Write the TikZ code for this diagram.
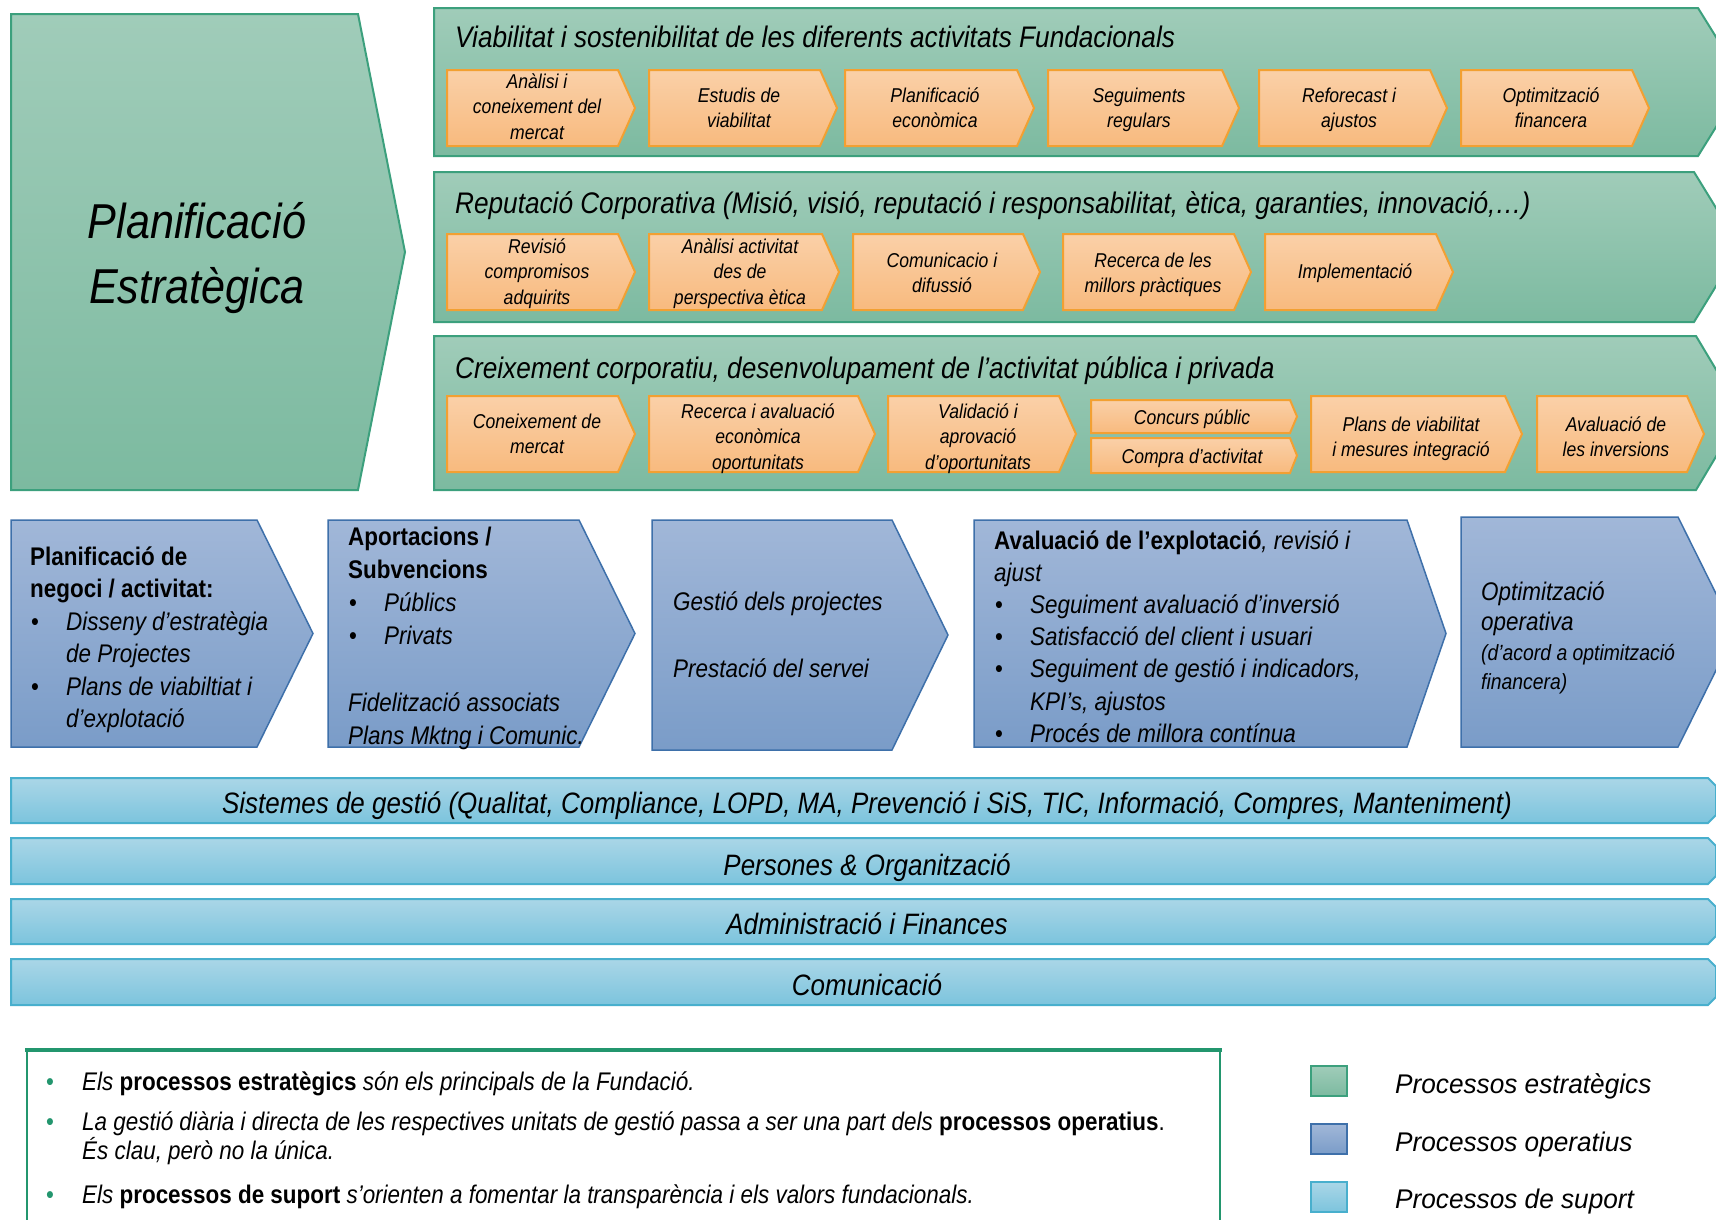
\documentclass[tikz,border=0pt]{standalone}
\usepackage{fontspec}
\setmainfont{Liberation Sans}[FakeStretch=0.88]
\newfontfamily\legfont{Liberation Sans}[FakeStretch=0.97]
\definecolor{stratT}{RGB}{160,204,185}
\definecolor{stratB}{RGB}{124,186,160}
\definecolor{stratL}{RGB}{60,160,125}
\definecolor{orT}{RGB}{250,208,168}
\definecolor{orB}{RGB}{248,186,126}
\definecolor{orL}{RGB}{242,160,50}
\definecolor{opT}{RGB}{161,183,216}
\definecolor{opB}{RGB}{122,156,200}
\definecolor{opL}{RGB}{62,112,170}
\definecolor{suT}{RGB}{170,214,231}
\definecolor{suB}{RGB}{124,196,221}
\definecolor{suL}{RGB}{72,175,205}
\definecolor{legL}{RGB}{35,150,110}
\newcommand\Lft[1]{\vtop{\halign{##\hfil\cr#1\crcr}}}
\newcommand\Ctr[1]{\vtop{\halign{\hfil##\hfil\cr#1\crcr}}}
\newcommand\bul{\makebox[36pt][l]{\hspace{1pt}\textbullet}}
\newcommand\ind{\hspace*{36pt}}
\newcommand\chevron[6]{\path[#1] (#2,#3) -- ({#4-#6},#3) -- (#4,{(#3+#5)/2}) -- ({#4-#6},#5) -- (#2,#5) -- cycle;}
\newcommand\suppband[2]{\path[supp] (11,#1) -- (1708,#1) -- (1716,{#1+8}) -- (1716,{#2-8}) -- (1708,#2) -- (11,#2) -- cycle;}
\begin{document}
\begin{tikzpicture}[x=1pt,y=-1pt,
  strat/.style={draw=stratL,line width=2pt,top color=stratT,bottom color=stratB},
  orng/.style={draw=orL,line width=2pt,top color=orT,bottom color=orB},
  oper/.style={draw=opL,line width=1.5pt,top color=opT,bottom color=opB},
  supp/.style={draw=suL,line width=2pt,top color=suT,bottom color=suB},
  otx/.style={anchor=base,inner sep=0,font=\fontsize{20}{25.7}\selectfont\itshape},
  ttl/.style={anchor=base west,inner sep=0,font=\fontsize{29.75}{34}\selectfont\itshape},
  bigt/.style={anchor=base,inner sep=0,font=\fontsize{49}{60}\selectfont\itshape},
  optx/.style={anchor=base west,inner sep=0,font=\fontsize{25.5}{32.5}\selectfont},
  sutx/.style={anchor=base,inner sep=0,font=\fontsize{29.5}{34}\selectfont\itshape},
  notx/.style={anchor=base west,inner sep=0,font=\fontsize{25.5}{30}\selectfont},
  gbul/.style={anchor=base,inner sep=0,text=legL,font=\fontsize{25.5}{30}\selectfont},
  legtx/.style={anchor=base west,inner sep=0,font=\legfont\fontsize{27}{30}\selectfont\itshape}]
\useasboundingbox (0,0) rectangle (1716,1219);
\fill[white] (0,0) rectangle (1716,1219);
\begin{scope}
\clip (0,0) rectangle (1716,1219);
% strategic
\chevron{strat}{11}{14}{405}{490}{47}
\chevron{strat}{434}{8}{1744}{156}{46}
\chevron{strat}{434}{172}{1740}{322}{46}
\chevron{strat}{434}{336}{1742}{490}{46}
\node[bigt] (pe1) at (197,238) {Planificació};
\node[bigt] (pe2) at (197,303) {Estratègica};
\node[ttl] (t1) at (455,47) {Viabilitat i sostenibilitat de les diferents activitats Fundacionals};
\node[ttl] (t2) at (455,213) {Reputació Corporativa (Misió, visió, reputació i responsabilitat, ètica, garanties, innovació,…)};
\node[ttl] (t3) at (455,378) {Creixement corporatiu, desenvolupament de l’activitat pública i privada};
% band 1
\chevron{orng}{447}{70}{635}{146}{17}
\chevron{orng}{649}{70}{837}{146}{17}
\chevron{orng}{845}{70}{1034}{146}{17}
\chevron{orng}{1048}{70}{1239}{146}{17}
\chevron{orng}{1259}{70}{1447}{146}{17}
\chevron{orng}{1461}{70}{1649}{146}{17}
\node[otx] (a1) at (537,88) {\Ctr{Anàlisi i\cr coneixement del\cr mercat\cr}};
\node[otx] (a2) at (739,102) {\Ctr{Estudis de\cr viabilitat\cr}};
\node[otx] (a3) at (935,102) {\Ctr{Planificació\cr econòmica\cr}};
\node[otx] (a4) at (1139,102) {\Ctr{Seguiments\cr regulars\cr}};
\node[otx] (a5) at (1349,102) {\Ctr{Reforecast i\cr ajustos\cr}};
\node[otx] (a6) at (1551,102) {\Ctr{Optimització\cr financera\cr}};
% band 2
\chevron{orng}{447}{234}{635}{310}{17}
\chevron{orng}{649}{234}{839}{310}{17}
\chevron{orng}{853}{234}{1040}{310}{17}
\chevron{orng}{1063}{234}{1251}{310}{17}
\chevron{orng}{1265}{234}{1453}{310}{17}
\node[otx] (b1) at (537,253) {\Ctr{Revisió\cr compromisos\cr adquirits\cr}};
\node[otx] (b2) at (740,253) {\Ctr{Anàlisi activitat\cr des de\cr perspectiva ètica\cr}};
\node[otx] (b3) at (942,267) {\Ctr{Comunicacio i\cr difussió\cr}};
\node[otx] (b4) at (1153,267) {\Ctr{Recerca de les\cr millors pràctiques\cr}};
\node[otx] (b5) at (1355,278) {Implementació};
% band 3
\chevron{orng}{447}{396}{635}{472}{17}
\chevron{orng}{649}{396}{875}{472}{17}
\chevron{orng}{888}{396}{1076}{472}{17}
\chevron{orng}{1091}{400}{1297}{433}{7}
\chevron{orng}{1091}{438}{1297}{473}{7}
\chevron{orng}{1311}{396}{1522}{472}{17}
\chevron{orng}{1537}{396}{1704}{472}{17}
\node[otx] (c1) at (537,428) {\Ctr{Coneixement de\cr mercat\cr}};
\node[otx] (c2) at (758,418) {\Ctr{Recerca i avaluació\cr econòmica\cr oportunitats\cr}};
\node[otx] (c3) at (978,418) {\Ctr{Validació i\cr aprovació\cr d’oportunitats\cr}};
\node[otx] (c4) at (1192,424) {Concurs públic};
\node[otx] (c5) at (1192,463) {Compra d’activitat};
\node[otx] (c6) at (1411,431) {\Ctr{Plans de viabilitat\cr i mesures integració\cr}};
\node[otx] (c7) at (1616,431) {\Ctr{Avaluació de\cr les inversions\cr}};
% operational
\chevron{oper}{11}{520}{313}{747}{56}
\chevron{oper}{328}{520}{635}{747}{56}
\chevron{oper}{652}{520}{948}{750}{56}
\chevron{oper}{974}{520}{1446}{747}{39}
\chevron{oper}{1461}{517}{1735}{747}{57}
\node[optx] (o1) at (30,565) {\Lft{\bfseries Planificació de\cr \bfseries negoci / activitat:\cr \bul\itshape Disseny d’estratègia\cr \ind\itshape de Projectes\cr \bul\itshape Plans de viabiltiat i\cr \ind\itshape d’explotació\cr}};
\node[optx,font=\fontsize{25.5}{33.3}\selectfont] (o2) at (348,545) {\Lft{\bfseries Aportacions /\cr \bfseries Subvencions\cr \bul\itshape Públics\cr \bul\itshape Privats\cr \cr \itshape Fidelització associats\cr \itshape Plans Mktng i Comunic.\cr}};
\node[optx,font=\fontsize{25.5}{33.5}\selectfont] (o3) at (673,610) {\Lft{\itshape Gestió dels projectes\cr \cr \itshape Prestació del servei\cr}};
\node[optx,font=\fontsize{25.5}{32.2}\selectfont] (o4) at (994,549) {\Lft{\textbf{Avaluació de l’explotació}\itshape, revisió i\cr \itshape ajust\cr \bul\itshape Seguiment avaluació d’inversió\cr \bul\itshape Satisfacció del client i usuari\cr \bul\itshape Seguiment de gestió i indicadors,\cr \ind\itshape KPI’s, ajustos\cr \bul\itshape Procés de millora contínua\cr}};
\node[optx,font=\fontsize{25.5}{30.5}\selectfont] (o5) at (1481,600) {\Lft{\itshape Optimització\cr \itshape operativa\cr}};
\node[optx,font=\fontsize{22}{29.5}\selectfont] (o6) at (1481,660) {\Lft{\itshape (d’acord a optimització\cr \itshape financera)\cr}};
% support
\suppband{778}{823}
\suppband{838}{884}
\suppband{899}{944}
\suppband{959}{1005}
\node[sutx] (s1) at (867,813) {Sistemes de gestió (Qualitat, Compliance, LOPD, MA, Prevenció i SiS, TIC, Informació, Compres, Manteniment)};
\node[sutx] (s2) at (867,875) {Persones \& Organització};
\node[sutx] (s3) at (867,934) {Administració i Finances};
\node[sutx] (s4) at (867,995) {Comunicació};
% notes box
\draw[legL,line width=2pt] (27,1051) rectangle (1220,1240);
\draw[legL,line width=4pt] (25,1050) -- (1222,1050);
\node[gbul] (g1) at (50,1090) {\textbullet};
\node[gbul] (g2) at (50,1130) {\textbullet};
\node[gbul] (g3) at (50,1203) {\textbullet};
\node[notx] (n1) at (82,1090) {\textit{Els} \textbf{processos estratègics} \textit{són els principals de la Fundació.}};
\node[notx] (n2) at (82,1130) {\textit{La gestió diària i directa de les respectives unitats de gestió passa a ser una part dels} \textbf{processos operatius}.};
\node[notx] (n3) at (82,1159) {\textit{És clau, però no la única.}};
\node[notx] (n4) at (82,1203) {\textit{Els} \textbf{processos de suport} \textit{s’orienten a fomentar la transparència i els valors fundacionals.}};
% legend
\path[strat,line width=1.5pt] (1311,1066) rectangle (1347,1096);
\path[oper,line width=1.5pt] (1311,1124) rectangle (1347,1154);
\path[supp,line width=1.5pt] (1311,1182) rectangle (1347,1212);
\node[legtx] (l1) at (1395,1093) {Processos estratègics};
\node[legtx] (l2) at (1395,1151) {Processos operatius};
\node[legtx] (l3) at (1395,1208) {Processos de suport};
\end{scope}
\end{tikzpicture}
\end{document}
